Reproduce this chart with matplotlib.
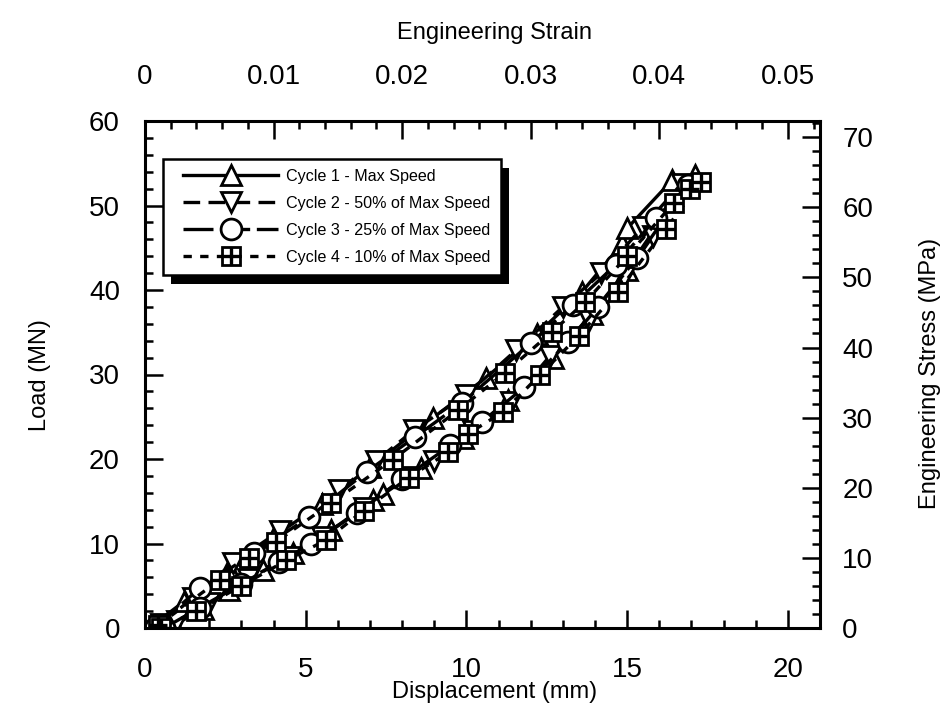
import matplotlib
matplotlib.use('Agg')
import matplotlib.pyplot as plt
from matplotlib.legend_handler import HandlerLine2D, HandlerTuple
from matplotlib.patches import Rectangle
from matplotlib.text import Text
from matplotlib.ticker import MultipleLocator

plt.rcParams['font.family'] = ['Liberation Sans', 'DejaVu Sans']

# Cycle 1 - max speed (loading / unloading branches)
c1_up_x = [0.2, 1.2, 2.6, 4.0, 5.5, 7.0, 8.97, 10.6, 12.2, 13.6, 14.85, 15.0, 16.4, 17.1]
c1_up_y = [0.2, 3.1, 7.0, 10.8, 14.7, 19.0, 24.9, 29.6, 34.8, 39.8, 45.5, 47.3, 53.0, 53.6]
c1_dn_x = [17.1, 16.0, 15.0, 13.9, 12.7, 11.3, 9.9, 8.6, 7.4, 7.1, 5.8, 4.6, 3.66, 2.6, 1.8, 0.9]
c1_dn_y = [53.6, 48.0, 42.4, 37.2, 32.0, 27.0, 22.5, 18.9, 15.8, 15.1, 11.6, 8.9, 6.9, 4.5, 2.3, 0.3]

# Cycle 2 - 50% of max speed
c2_up_x = [0.5, 1.5, 2.73, 4.2, 6.04, 7.2, 8.36, 10.0, 11.55, 13.0, 14.2, 15.5, 16.7]
c2_up_y = [0.5, 3.6, 7.7, 11.5, 16.3, 19.8, 23.4, 27.6, 32.9, 38.0, 42.0, 47.5, 52.6]
c2_dn_x = [16.7, 15.8, 14.9, 13.8, 12.6, 11.4, 10.2, 9.0, 8.1, 6.8, 5.5, 4.5, 3.2, 2.0, 1.0]
c2_dn_y = [52.6, 46.4, 41.5, 36.5, 32.2, 26.8, 23.3, 19.8, 17.9, 14.2, 10.8, 8.4, 5.8, 3.0, 0.8]

# Cycle 3 - 25% of max speed
c3_up_x = [0.3, 1.7, 3.4, 5.1, 6.9, 8.4, 9.85, 12.0, 13.3, 14.65, 15.9, 16.9]
c3_up_y = [0.0, 4.7, 8.9, 13.1, 18.5, 22.6, 26.6, 33.7, 38.2, 43.0, 48.5, 52.4]
c3_dn_x = [16.9, 15.3, 14.1, 13.15, 11.8, 10.5, 9.5, 8.0, 6.6, 5.17, 4.18, 3.0, 1.7, 0.6]
c3_dn_y = [52.4, 43.8, 38.0, 33.8, 28.5, 24.4, 21.6, 17.6, 13.6, 10.0, 7.8, 5.2, 2.4, 0.0]

# Cycle 4 - 10% of max speed
c4_up_x = [0.4, 2.32, 3.25, 4.08, 5.8, 7.7, 9.75, 11.2, 12.65, 13.7, 15.0, 16.45, 16.95, 17.3]
c4_up_y = [0.3, 5.7, 8.3, 10.2, 14.8, 19.9, 25.8, 30.2, 35.0, 38.6, 44.0, 50.3, 52.0, 52.8]
c4_dn_x = [17.3, 16.2, 14.7, 13.5, 12.3, 11.15, 10.06, 9.44, 8.2, 6.8, 5.63, 4.4, 3.0, 1.6, 0.5]
c4_dn_y = [52.8, 47.2, 39.8, 34.6, 30.0, 25.6, 23.0, 20.8, 17.8, 13.9, 10.4, 8.0, 5.0, 2.0, 0.0]

labels = ['Cycle 1 - Max Speed', 'Cycle 2 - 50% of Max Speed',
          'Cycle 3 - 25% of Max Speed', 'Cycle 4 - 10% of Max Speed']

strain_ticks = [0, 0.01, 0.02, 0.03, 0.04, 0.05]
strain_labels = ['0', '0.01', '0.02', '0.03', '0.04', '0.05']
gauge_mm = 400.0          # displacement -> strain
stress_per_mn = 1.205     # load (MN) -> stress (MPa)

fig = plt.figure(figsize=(9.5, 7.11), dpi=100)
ax = fig.add_axes([145 / 950, 1 - 628 / 711, 675 / 950, 507 / 711])

mk = dict(markerfacecolor='white', markeredgecolor='black', markeredgewidth=2.0)
lw = 2.4

def loop(ux, uy, dx, dy):
    return ux + dx[1:], uy + dy[1:]

x1, y1 = loop(c1_up_x, c1_up_y, c1_dn_x, c1_dn_y)
x2, y2 = loop(c2_up_x, c2_up_y, c2_dn_x, c2_dn_y)
x3, y3 = loop(c3_up_x, c3_up_y, c3_dn_x, c3_dn_y)
x4, y4 = loop(c4_up_x, c4_up_y, c4_dn_x, c4_dn_y)

l1, = ax.plot(x1, y1, color='black', lw=lw, ls='-', marker='^', ms=14, **mk)
l2, = ax.plot(x2, y2, color='black', lw=lw, ls=(0, (5, 2.5)), marker='v', ms=14, **mk)
l3, = ax.plot(x3, y3, color='black', lw=lw, ls=(0, (9, 2)), marker='o', ms=15, **mk)
l4, = ax.plot(x4, y4, color='black', lw=lw, ls=(0, (2.5, 2.5)), marker='s', ms=13, **mk)
l4p, = ax.plot(x4, y4, ls='none', marker='+', ms=13, markeredgecolor='black',
               markeredgewidth=2.4)

ax.set_xlim(0, 21)
ax.set_ylim(0, 60)
ax.xaxis.set_major_locator(MultipleLocator(5))
ax.xaxis.set_minor_locator(MultipleLocator(1))
ax.yaxis.set_major_locator(MultipleLocator(10))
ax.yaxis.set_minor_locator(MultipleLocator(2))
for s in ax.spines.values():
    s.set_linewidth(2.2)

ax.tick_params(which='both', direction='in', top=False, right=False, width=1.8,
               labelsize=20)
ax.tick_params(which='major', length=13)
ax.tick_params(which='minor', length=6)
ax.tick_params(axis='x', pad=21)
ax.tick_params(axis='y', pad=18)

top = ax.secondary_xaxis('top', functions=(lambda d: d / gauge_mm, lambda s: s * gauge_mm))
top.set_xticks(strain_ticks, labels=strain_labels)
top.xaxis.set_minor_locator(MultipleLocator(0.002))
top.tick_params(which='both', direction='in', width=1.8, labelsize=20, pad=22)
top.tick_params(which='major', length=13)
top.tick_params(which='minor', length=6)

right = ax.secondary_yaxis('right', functions=(lambda l: l * stress_per_mn,
                                                lambda s: s / stress_per_mn))
right.yaxis.set_major_locator(MultipleLocator(10))
right.yaxis.set_minor_locator(MultipleLocator(2))
right.tick_params(which='both', direction='in', width=1.8, labelsize=20, pad=16)
right.tick_params(which='major', length=13)
right.tick_params(which='minor', length=6)

fig.text(495 / 950, 1 - 692 / 711, 'Displacement (mm)', ha='center', va='center', fontsize=17)
fig.text(495 / 950, 1 - 33 / 711, 'Engineering Strain', ha='center', va='center', fontsize=17)
fig.text(40 / 950, 1 - 375 / 711, 'Load (MN)', ha='center', va='center', rotation=90, fontsize=17)
fig.text(930 / 950, 1 - 373 / 711, 'Engineering Stress (MPa)', ha='center', va='center',
         rotation=90, fontsize=17)

hpad = 0.65
leg = ax.legend([l1, l2, l3, (l4, l4p)], labels, loc='upper left',
                bbox_to_anchor=(0.027, 0.925), borderaxespad=0, fontsize=11.6,
                handlelength=5.9 + hpad, handletextpad=0.5, borderpad=0.6,
                labelspacing=0.75, fancybox=False, framealpha=1, edgecolor='black',
                handler_map={tuple: HandlerTuple(ndivide=1, xpad=hpad),
                             l1: HandlerLine2D(xpad=hpad), l2: HandlerLine2D(xpad=hpad),
                             l3: HandlerLine2D(xpad=hpad)})
leg.get_frame().set_linewidth(1.8)
leg.set_zorder(5)

# solid black drop shadow behind the legend box
fig.canvas.draw()
bb = leg.get_frame().get_window_extent(fig.canvas.get_renderer())
inv = ax.transAxes.inverted()
(ax0, ay0), (ax1, ay1) = inv.transform([(bb.x0 + 8, bb.y0 - 9), (bb.x1 + 8, bb.y1 - 9)])
ax.add_patch(Rectangle((ax0, ay0), ax1 - ax0, ay1 - ay0, transform=ax.transAxes,
                       facecolor='black', edgecolor='none', zorder=4.9, clip_on=False))

# hide empty placeholder texts (axis labels, offset texts) left by the axes
for t in fig.findobj(Text):
    if t.get_text() == '':
        t.set_visible(False)

fig.savefig('out.png', dpi=100)
